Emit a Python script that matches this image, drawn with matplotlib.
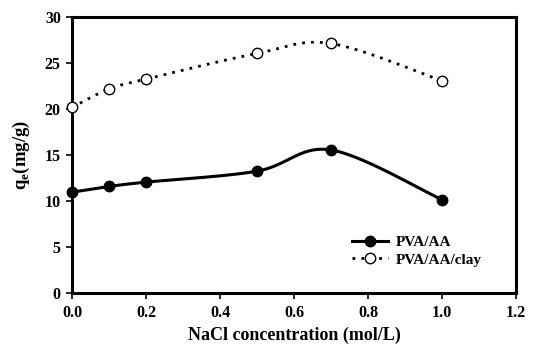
import numpy as np
import matplotlib
matplotlib.use("Agg")
import matplotlib.pyplot as plt
from matplotlib.lines import Line2D

x = [0.0, 0.1, 0.2, 0.5, 0.7, 1.0]
pva_aa = [10.95, 11.57, 12.04, 13.23, 15.54, 10.12]
pva_aa_clay = [20.17, 22.16, 23.24, 26.03, 27.11, 23.06]
xticks = [0.0, 0.2, 0.4, 0.6, 0.8, 1.0, 1.2]
yticks = [0, 5, 10, 15, 20, 25, 30]

plt.rcParams['font.family'] = ['Liberation Serif', 'DejaVu Serif']
plt.rcParams['font.weight'] = 'bold'
plt.rcParams['mathtext.fontset'] = 'custom'
plt.rcParams['mathtext.rm'] = 'Liberation Serif:bold'

fig = plt.figure(figsize=(5.33, 3.45), dpi=100)
AX = [0.135, 0.151, 0.833, 0.80]
ax = fig.add_axes(AX)
ax.set_xlim(0, 1.2)
ax.set_ylim(0, 30)


def smooth(xs, ys, n=30):
    # spreadsheet-style smoothed line through the data points (Bezier, Catmull-Rom tangents)
    xs = np.asarray(xs, float); ys = np.asarray(ys, float)
    sx, sy = 1.2, 30.0 * AX[3] * 3.45 / (AX[2] * 5.33)
    P = np.column_stack([xs / sx, ys / sy])
    P = np.vstack([P[0], P, P[-1]])
    out = []
    t = 1 / 6.0
    for i in range(1, len(P) - 2):
        p0, p1, p2, p3 = P[i - 1], P[i], P[i + 1], P[i + 2]
        c1 = p1 + (p2 - p0) * t
        c2 = p2 - (p3 - p1) * t
        s = np.linspace(0, 1, n)[:, None]
        seg = (1 - s) ** 3 * p1 + 3 * (1 - s) ** 2 * s * c1 + 3 * (1 - s) * s ** 2 * c2 + s ** 3 * p2
        out.append(seg if i == 1 else seg[1:])
    out = np.vstack(out)
    return out[:, 0] * sx, out[:, 1] * sy

MS = 7.5
sx1, sy1 = smooth(x, pva_aa)
sx2, sy2 = smooth(x, pva_aa_clay)
ax.plot(sx1, sy1, color='black', lw=2.2, solid_capstyle='round', zorder=2, clip_on=False)
ax.plot(sx2, sy2, color='black', lw=2.0, ls=(0, (1, 2.2)), zorder=2, clip_on=False)
ax.plot(x, pva_aa, 'o', color='black', ms=MS, zorder=3, clip_on=False)
ax.plot(x, pva_aa_clay, 'o', mfc='white', mec='black', mew=1.0, ms=MS, zorder=3, clip_on=False)

h1 = Line2D([], [], color='black', lw=2.2, marker='o', ms=MS)
h2 = Line2D([], [], color='black', lw=2.0, ls=(0, (1, 2.2)), marker='o', mfc='white', mec='black', mew=1.0, ms=MS)
ax.legend([h1, h2], ['PVA/AA', 'PVA/AA/clay'], loc='upper left', bbox_to_anchor=(0.63, 0.207),
          borderpad=0, borderaxespad=0,
          frameon=False, prop={'family': 'Liberation Serif', 'weight': 'bold', 'size': 11},
          handlelength=2.4, labelspacing=0.22, handletextpad=0.5)

ax.set_xticks(xticks)
ax.set_xticklabels([f"{v:.1f}" for v in xticks])
ax.set_yticks(yticks)
ax.tick_params(direction='out', length=4, width=1.2, labelsize=11.5)
ax.tick_params(axis='y', pad=4)
ax.tick_params(axis='x', pad=5)
for sp in ax.spines.values():
    sp.set_linewidth(2.2)
ax.set_xlabel('NaCl concentration (mol/L)', fontsize=13, fontweight='bold', labelpad=4)
ax.set_ylabel(r'q$_\mathregular{e}$(mg/g)', fontsize=13.5, fontweight='bold', labelpad=9)

fig.savefig('out.png', dpi=100)
